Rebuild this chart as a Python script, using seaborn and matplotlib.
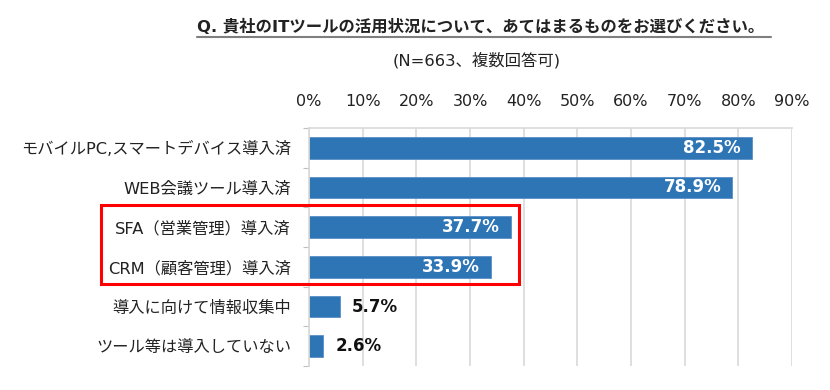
import matplotlib
matplotlib.use("Agg")
import matplotlib.pyplot as plt
import matplotlib.patches as mpatches
from matplotlib.lines import Line2D
from matplotlib.ticker import FixedLocator, PercentFormatter
import seaborn as sns
import pandas as pd

categories = [
    "モバイルPC,スマートデバイス導入済",
    "WEB会議ツール導入済",
    "SFA（営業管理）導入済",
    "CRM（顧客管理）導入済",
    "導入に向けて情報収集中",
    "ツール等は導入していない",
]
values = [82.5, 78.9, 37.7, 33.9, 5.7, 2.6]
x_ticks = [0, 10, 20, 30, 40, 50, 60, 70, 80, 90]
title = "Q. 貴社のITツールの活用状況について、あてはまるものをお選びください。"
subtitle = "(N=663、複数回答可)"

sns.set_theme(style="white")
plt.rcParams["font.family"] = ["DejaVu Sans", "Noto Sans CJK JP"]

W, H = 830, 390
fig = plt.figure(figsize=(W / 100, H / 100), dpi=100)
ax = fig.add_axes([309 / W, 1 - 366 / H, 483 / W, 238 / H])

df = pd.DataFrame({"cat": categories, "val": values})
sns.barplot(data=df, y="cat", x="val", orient="h", color="#2E75B6",
            saturation=1, width=0.55, ax=ax, edgecolor="#5B8FC7", linewidth=0.6)

ax.set_xlim(0, 90)
ax.set_ylim(len(categories) - 0.5, -0.5)
ax.set_xlabel("")
ax.set_ylabel("")
ax.xaxis.set_major_locator(FixedLocator(x_ticks))
ax.xaxis.set_major_formatter(PercentFormatter(decimals=0))
ax.xaxis.tick_top()
ax.tick_params(axis="x", length=0, pad=14, labelsize=11.5, colors="#222222")
ax.tick_params(axis="y", which="major", length=0, pad=13, labelsize=11.7, colors="#222222")
ax.yaxis.set_minor_locator(FixedLocator([i + 0.5 for i in range(-1, len(categories))]))
ax.tick_params(axis="y", which="minor", length=4, width=0.8, color="#BFBFBF", left=True)
ax.grid(axis="x", color="#D9D9D9", linewidth=1.2)
ax.set_axisbelow(True)
for s in ["bottom", "right"]:
    ax.spines[s].set_visible(False)
for s in ["top", "left"]:
    ax.spines[s].set_color("#D9D9D9")
    ax.spines[s].set_linewidth(1.2)

for i, v in enumerate(values):
    if v > 20:
        ax.annotate(f"{v:.1f}%", xy=(v, i), xytext=(-8, 0), textcoords="offset points",
                    ha="right", va="center", color="white", fontsize=12, fontweight="bold")
    else:
        ax.annotate(f"{v:.1f}%", xy=(v, i), xytext=(9, 0), textcoords="offset points",
                    ha="left", va="center", color="#111111", fontsize=12, fontweight="bold")

# Title with underline
t = fig.text(481 / W, 1 - 27 / H, title, ha="center", va="center", fontsize=11.8,
             fontweight="bold", color="#222222")
fig.canvas.draw()
bb = t.get_window_extent()
fig.add_artist(Line2D([bb.x0 / W, (bb.x1 + 6) / W], [1 - 37 / H, 1 - 37 / H],
                      transform=fig.transFigure, color="#7F7F7F", linewidth=1.5))
fig.text(477 / W, 1 - 60 / H, subtitle, ha="center", va="center", fontsize=11.8, color="#222222")

# Red highlight box
rect = mpatches.Rectangle((101 / W, 1 - 284 / H), 418 / W, 79 / H, transform=fig.transFigure,
                          fill=False, edgecolor="#FF0000", linewidth=2.2)
fig.add_artist(rect)

fig.savefig("out.png", dpi=100, facecolor="white")
